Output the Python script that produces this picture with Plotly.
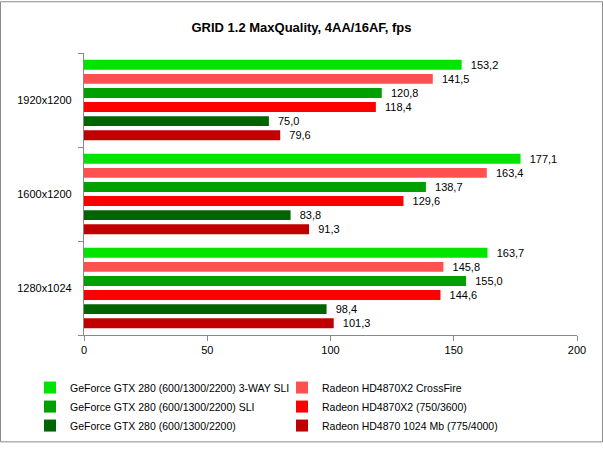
import plotly.graph_objects as go

categories = ["1280x1024", "1600x1200", "1920x1200"]
series_names = [
    "GeForce GTX 280 (600/1300/2200) 3-WAY SLI",
    "Radeon HD4870X2 CrossFire",
    "GeForce GTX 280 (600/1300/2200) SLI",
    "Radeon HD4870X2 (750/3600)",
    "GeForce GTX 280 (600/1300/2200)",
    "Radeon HD4870 1024 Mb (775/4000)",
]
# values per series, in category order 1280x1024, 1600x1200, 1920x1200
values = [
    [163.7, 177.1, 153.2],
    [145.8, 163.4, 141.5],
    [155.0, 138.7, 120.8],
    [144.6, 129.6, 118.4],
    [98.4, 83.8, 75.0],
    [101.3, 91.3, 79.6],
]
colors = ["#00E400", "#FF5050", "#00A000", "#FF0000", "#006400", "#C00000"]
legend_ids = ["legend", "legend2", "legend", "legend2", "legend", "legend2"]
x_ticks = [0, 50, 100, 150, 200]

FONT = "Liberation Sans, Arial, sans-serif"

fig = go.Figure()
# add in reverse so the first series sits at the top of each group
for i in reversed(range(len(series_names))):
    fig.add_trace(go.Bar(
        y=categories,
        x=values[i],
        name=series_names[i],
        orientation="h",
        marker=dict(color=colors[i], line=dict(width=0)),
        text=["  " + f"{v:.1f}".replace(".", ",") for v in values[i]],
        textposition="outside",
        constraintext="none",
        textfont=dict(size=11, color="black", family=FONT),
        cliponaxis=False,
        legend=legend_ids[i],
        legendrank=i,
    ))

L, R, T, B = 84, 26, 53, 110
W, H = 603, 452
pw, ph = W - L - R, H - T - B

leg_font = dict(size=10.5, family=FONT, color="black")
fig.update_layout(
    width=W, height=H,
    margin=dict(l=L, r=R, t=T, b=B),
    paper_bgcolor="white",
    plot_bgcolor="white",
    barmode="group",
    bargap=0.1,
    bargroupgap=0.3,
    font=dict(family=FONT, size=11, color="black"),
    uniformtext=dict(mode=False),
    title=dict(text="<b>GRID 1.2 MaxQuality, 4AA/16AF, fps</b>",
               x=0.5, xanchor="center", y=1 - 27 / H, yanchor="middle",
               font=dict(size=13, family=FONT, color="black")),
    xaxis=dict(range=[0, 200], tickvals=x_ticks, ticktext=[str(t) for t in x_ticks],
               showgrid=False, zeroline=False, showline=True, linecolor="#888888",
               ticks="outside", ticklen=5, tickcolor="#888888",
               tickfont=dict(size=11, family=FONT)),
    yaxis=dict(showgrid=False, zeroline=False, showline=True, linecolor="#888888",
               ticks="outside", ticklen=5, tickcolor="#888888", tickson="boundaries",
               tickfont=dict(size=11, family=FONT), ticksuffix="   "),
    legend=dict(x=(30 - L) / pw, y=(ph - (381 - T)) / ph, xanchor="left", yanchor="top",
                orientation="v", traceorder="normal", font=leg_font,
                itemwidth=30, tracegroupgap=0, bgcolor="rgba(0,0,0,0)"),
    legend2=dict(x=(282 - L) / pw, y=(ph - (381 - T)) / ph, xanchor="left", yanchor="top",
                 orientation="v", traceorder="normal", font=leg_font,
                 itemwidth=30, tracegroupgap=0, bgcolor="rgba(0,0,0,0)"),
    shapes=[dict(type="rect", xref="paper", yref="paper",
                 x0=(0.5 - L) / pw, x1=(W - 0.5 - L) / pw,
                 y0=(ph - (H - 0.5 - T)) / ph, y1=(ph - (0.5 - T)) / ph,
                 line=dict(color="#8c8c8c", width=1))],
)

fig.write_html("out.html")
